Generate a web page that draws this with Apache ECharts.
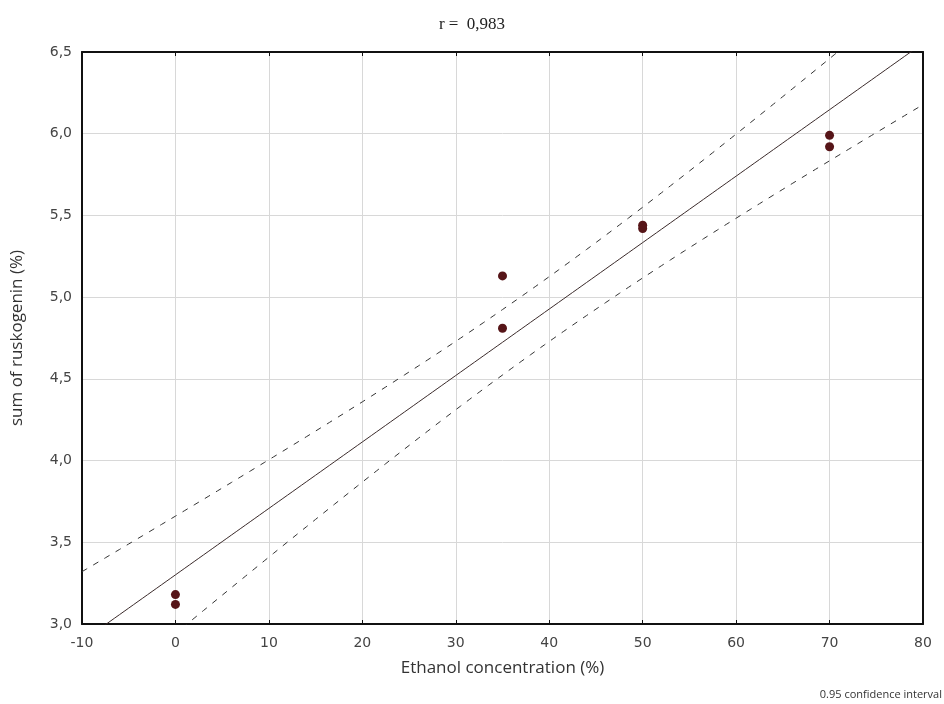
<!DOCTYPE html>
<html><head><meta charset="utf-8">
<script src="https://cdn.jsdelivr.net/npm/echarts@6/dist/echarts.min.js"></script>
<style>html,body{margin:0;padding:0;background:#fff}#c{width:944px;height:704px}</style>
</head><body><div id="c"></div>
<script>
// Data
const ethanol = [0, 0, 35, 35, 50, 50, 70, 70];
const ruskogenin = [3.18, 3.12, 5.13, 4.81, 5.44, 5.42, 5.99, 5.92];
const xTicks = [-10, 0, 10, 20, 30, 40, 50, 60, 70, 80];
const yTicks = [3.0, 3.5, 4.0, 4.5, 5.0, 5.5, 6.0, 6.5];
const titleText = 'r =  0,983';
const xName = 'Ethanol concentration (%)';
const yName = 'sum of ruskogenin (%)';
const noteText = '0.95 confidence interval';

// Linear regression and 95% confidence band computed from the data
const n = ethanol.length;
const mx = ethanol.reduce((a, b) => a + b, 0) / n;
const my = ruskogenin.reduce((a, b) => a + b, 0) / n;
let sxx = 0, sxy = 0;
for (let i = 0; i < n; i++) { sxx += (ethanol[i] - mx) ** 2; sxy += (ethanol[i] - mx) * (ruskogenin[i] - my); }
const slope = sxy / sxx, intercept = my - slope * mx;
let sse = 0;
for (let i = 0; i < n; i++) sse += (ruskogenin[i] - (intercept + slope * ethanol[i])) ** 2;
const s = Math.sqrt(sse / (n - 2));
const tval = 2.447; // t(0.975, df=6)
const fit = [], upper = [], lower = [];
for (let x = xTicks[0]; x <= xTicks[xTicks.length - 1]; x += 0.5) {
  const yh = intercept + slope * x;
  const h = tval * s * Math.sqrt(1 / n + (x - mx) ** 2 / sxx);
  fit.push([x, yh]); upper.push([x, yh + h]); lower.push([x, yh - h]);
}

const xMin = xTicks[0], xMax = xTicks[xTicks.length - 1];
const yMin = yTicks[0], yMax = yTicks[yTicks.length - 1];
const frameLine = { show: true, onZero: false, lineStyle: { color: '#111', width: 2 } };
const tickIn = { show: true, inside: true, length: 4, lineStyle: { color: '#111' } };
const grid = { show: true, lineStyle: { color: '#d8d8d8', width: 1 } };
const lblFont = { color: '#444', fontSize: 14, fontFamily: 'DejaVu Sans' };
const nameFont = { fontSize: 17, color: '#333', fontFamily: 'Open Sans' };

const chart = echarts.init(document.getElementById('c'));
chart.setOption({
  animation: false,
  title: { text: titleText, left: 'center', top: 11, textStyle: { fontFamily: 'Liberation Serif', fontWeight: 'normal', fontSize: 17, color: '#222' } },
  graphic: [{ type: 'text', right: 2, top: 689, style: { text: noteText, fontSize: 11, fontFamily: 'Open Sans', fill: '#333' } }],
  grid: { left: 82, right: 21, top: 52, bottom: 80 },
  xAxis: [{
    type: 'value', min: xMin, max: xMax, interval: 10,
    name: xName, nameLocation: 'middle', nameGap: 36, nameTextStyle: nameFont,
    axisLine: frameLine, axisTick: tickIn,
    axisLabel: Object.assign({ margin: 12, formatter: v => String(v) }, lblFont),
    splitLine: grid
  }, {
    type: 'value', min: xMin, max: xMax, interval: 10, position: 'top',
    axisLine: frameLine, axisTick: tickIn, axisLabel: { show: false }, splitLine: { show: false }
  }],
  yAxis: [{
    type: 'value', min: yMin, max: yMax, interval: 0.5,
    name: yName, nameLocation: 'middle', nameGap: 56, nameTextStyle: nameFont,
    axisLine: frameLine, axisTick: { show: false },
    axisLabel: Object.assign({ margin: 10, formatter: v => v.toFixed(1).replace('.', ',') }, lblFont),
    splitLine: grid
  }, {
    type: 'value', min: yMin, max: yMax, interval: 0.5, position: 'right',
    axisLine: frameLine, axisTick: { show: false }, axisLabel: { show: false }, splitLine: { show: false }
  }],
  series: [
    { type: 'line', data: fit, showSymbol: false, clip: true, lineStyle: { color: '#3a2a2a', width: 1 }, z: 3 },
    { type: 'line', data: upper, showSymbol: false, clip: true, lineStyle: { color: '#333', width: 1, type: [6, 7] }, z: 3 },
    { type: 'line', data: lower, showSymbol: false, clip: true, lineStyle: { color: '#333', width: 1, type: [6, 7] }, z: 3 },
    { type: 'scatter', data: ethanol.map((x, i) => [x, ruskogenin[i]]), symbol: 'circle', symbolSize: 9, itemStyle: { color: '#561518', opacity: 1 }, z: 5 }
  ]
});
</script></body></html>
